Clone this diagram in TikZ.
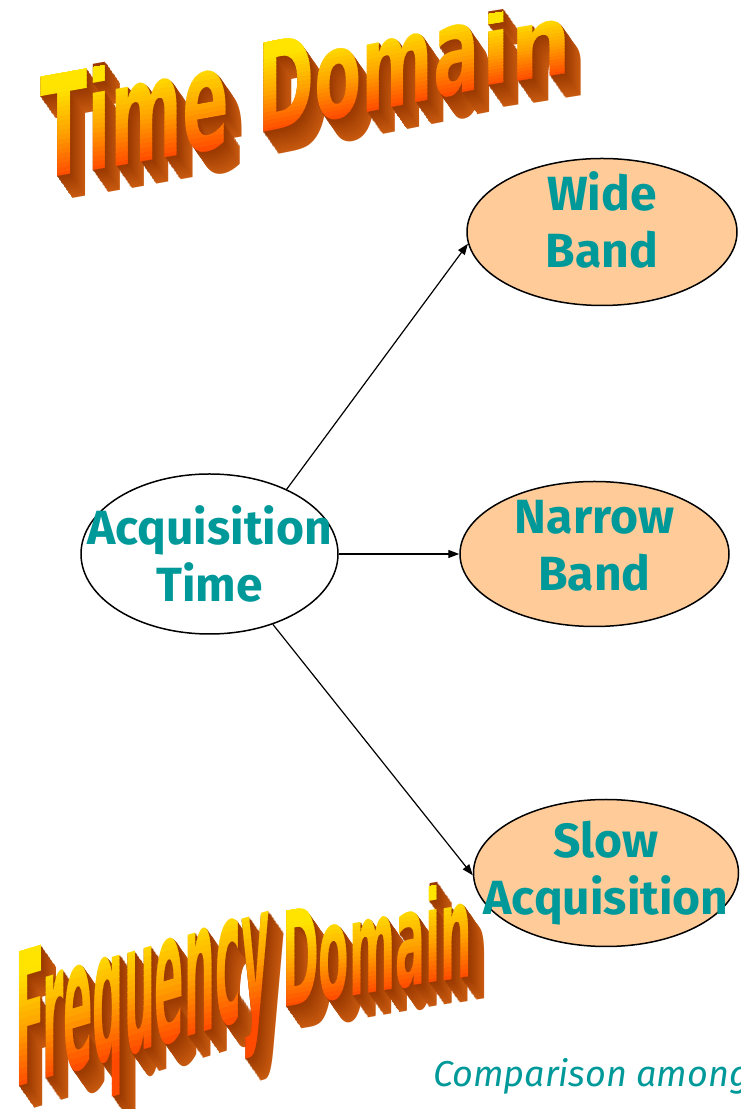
\documentclass[tikz,border=0pt]{standalone}
\usepackage{fontspec}
\setmainfont{Fira Sans}
\newfontfamily\artfont{DejaVu Sans}
\usetikzlibrary{shapes.geometric,arrows.meta,positioning}

\definecolor{peach}{HTML}{FFCC99}
\definecolor{tealtext}{HTML}{009999}
\definecolor{artyellow}{HTML}{FFE400}
\definecolor{artorange}{HTML}{FFA200}
\definecolor{artred}{HTML}{FF4A00}
\definecolor{artbrown}{HTML}{983800}
\definecolor{artside}{HTML}{C85A10}

\tikzset{
  band/.style={ellipse,draw,line width=1.5pt,fill=peach,minimum width=270pt,minimum height=147pt,inner xsep=-60pt,inner ysep=-10pt,align=center,text=tealtext,font=\fontsize{48}{57}\selectfont\bfseries},
  link/.style={-{Triangle[length=11pt,width=8pt]},line width=1.2pt},
  artword/.style={anchor=base west,inner sep=0pt,transform shape}
}

\newcommand\lift[1]{\rule[-#1]{0pt}{#1}}

% #1,#2 start of baseline, #3 slant, #4 squeeze, #5 size, #6 word
\newcommand\wordart[6]{%
  \foreach \d in {22,...,1}{
    \pgfmathtruncatemacro\shade{100*\d/22}
    \begin{scope}[shift={(#1+0.7*\d,#2-\d)},yslant=#3,xscale=#4]
      \node[artword,text=artside!\shade!artbrown,font=\artfont\bfseries\fontsize{#5}{#5}\selectfont] at (0,0) {#6};
    \end{scope}
  }
  \foreach \i in {0,...,29}{
    \pgfmathtruncatemacro\lo{max(0,min(100,200*(\i-7.5)/18.6))}
    \pgfmathtruncatemacro\up{max(0,min(100,200*(\i-7.5)/18.6-100))}
    \ifnum\lo<100 \colorlet{face}{artorange!\lo!artred}\else\colorlet{face}{artyellow!\up!artorange}\fi
    \begin{scope}[shift={(#1,#2)},yslant=#3,xscale=#4]
      \clip (-20,{(\i-8)*#5/30}) rectangle (3000,{(\i-7)*#5/30+0.6});
      \node[artword,text=face,font=\artfont\bfseries\fontsize{#5}{#5}\selectfont] at (0,0) {#6};
    \end{scope}
  }
}

\begin{document}
\begin{tikzpicture}[x=1pt,y=1pt]
\fill[white] (0,0) rectangle (740,1109);
\useasboundingbox (0,0) rectangle (740,1109);

\wordart{40}{929}{0.18}{0.49}{141}{Time}
\wordart{257}{975}{0.2}{0.56}{123}{Doma}
\wordart{481}{1022}{0.16}{0.88}{98}{in}
\wordart{15}{21}{0.3}{0.235}{185}{Frequency}
\wordart{282}{101}{0.17}{0.336}{132}{Domain}

\node[band,fill=white,minimum width=257pt,minimum height=160pt] (acq) at (209.5,555) {Acquisition\\Time};
\node[band] (wide) at (602,877) {Wide\\Band\lift{24pt}};
\node[band,minimum width=269pt,minimum height=145pt] (narrow) at (594.5,555) {Narrow\\Band\lift{18pt}};
\node[band,minimum width=265pt] (slow) at (606,236) {Slow\\Acquisition};

\draw[link] (acq.40) -- (wide.185);
\draw[link] (acq.east) -- (narrow.west);
\draw[link] (acq.-48) -- (slow.181);

\node[anchor=base west,inner sep=0pt,text=tealtext,font=\fontsize{36}{36}\selectfont\itshape] (note) at (433,23) {Comparison among};
\end{tikzpicture}
\end{document}
